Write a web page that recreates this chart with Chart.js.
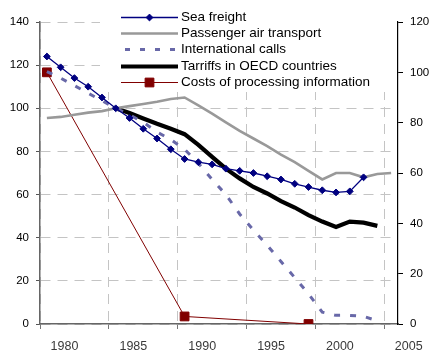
<!DOCTYPE html>
<html>
<head>
<meta charset="utf-8">
<script src="https://cdn.jsdelivr.net/npm/chart.js@4/dist/chart.umd.min.js"></script>
<style>
  html, body { margin: 0; padding: 0; background: #fff; overflow: hidden; }
  #wrap { width: 430px; height: 353px; position: relative; }
  canvas { display: block; }
</style>
</head>
<body>
<div id="wrap"><canvas id="trend"></canvas></div>
<script>
// Index values by year (left axis), costs on the right axis
const YEARS = [1980, 1981, 1982, 1983, 1984, 1985, 1986, 1987, 1988, 1989, 1990, 1991, 1992,
               1993, 1994, 1995, 1996, 1997, 1998, 1999, 2000, 2001, 2002, 2003, 2004, 2005];
const SEA_FREIGHT = [124, 119, 114, 110, 105, 100, 95.5, 90.5, 86, 81, 76.5, 75, 74, 72, 71,
                     70, 68.5, 67, 65, 63.5, 62, 61, 61.5, 68];
const PASSENGER_AIR = [95.5, 96, 97, 98, 98.7, 100, 101, 102, 103, 104.3, 105, 101.3, 97.5,
                       93.5, 89.5, 86, 82.5, 78.5, 75, 71, 67, 70, 70, 68, 69.5, 70];
const INTL_CALLS = [117, 114, 110.5, 107, 103.5, 100, 97, 93.5, 89, 85.5, 81, 74.5, 67, 60,
                    51, 43.5, 36.5, 29, 21.5, 14, 5.5, 4, 4, 3.5, 1.5];
const TARIFF_YEARS = YEARS.slice(5, 25);
const TARIFFS = [100, 97.8, 95.3, 92.8, 90.5, 88, 83, 77.5, 72, 67.5, 63.5, 60.5, 57, 54,
                 50.5, 47.5, 45, 47.5, 47, 45.5];
const COSTS_YEARS = [1980, 1990, 1999];
const COSTS = [100, 3, 0];

const X_LABELS = [1980, 1985, 1990, 1995, 2000, 2005];
const LEFT_MAX = 140;
const RIGHT_MAX = 120;

const FONT = '"Liberation Sans", Arial, sans-serif';
const pts = (xs, ys) => ys.map((v, i) => ({ x: xs[i], y: v }));

const datasets = [
  {
    label: 'Sea freight',
    data: pts(YEARS, SEA_FREIGHT),
    borderColor: '#000080', backgroundColor: '#000080', borderWidth: 1.3,
    pointStyle: 'rectRot', pointRadius: 3.4, pointBorderWidth: 1,
    yAxisID: 'y'
  },
  {
    label: 'Passenger air transport',
    data: pts(YEARS, PASSENGER_AIR),
    borderColor: '#999999', borderWidth: 2.6, pointRadius: 0,
    yAxisID: 'y'
  },
  {
    label: 'International calls',
    data: pts(YEARS, INTL_CALLS),
    borderColor: '#6868a8', borderWidth: 3, borderDash: [6, 10], pointRadius: 0,
    keyDash: [5, 10],
    yAxisID: 'y'
  },
  {
    label: 'Tarriffs in OECD countries',
    data: pts(TARIFF_YEARS, TARIFFS),
    borderColor: '#000000', borderWidth: 4.2, pointRadius: 0,
    yAxisID: 'y'
  },
  {
    label: 'Costs of processing information',
    data: pts(COSTS_YEARS, COSTS),
    borderColor: '#800000', backgroundColor: '#800000', borderWidth: 1,
    pointStyle: 'rect', pointRadius: 6.2, pointBorderWidth: 1,
    yAxisID: 'y1'
  }
];

// Year labels sit to the right of their tick marks, a little soft
const yearLabels = {
  id: 'yearLabels',
  afterDraw(chart) {
    const ctx = chart.ctx;
    const sx = chart.scales.x;
    ctx.save();
    ctx.font = '12.5px ' + FONT;
    ctx.fillStyle = '#3a3a3a';
    ctx.textAlign = 'center';
    ctx.textBaseline = 'middle';
    ctx.filter = 'blur(0.45px)';
    X_LABELS.forEach(yr => {
      const px = sx.getPixelForValue(yr - 0.5) + 24.5;
      ctx.fillText(String(yr), px, sx.top + 23);
    });
    ctx.restore();
  }
};

// Stacked key with line samples, boxed in white over the top of the plot
const seriesKey = {
  id: 'seriesKey',
  afterDraw(chart) {
    const ctx = chart.ctx;
    ctx.save();
    ctx.fillStyle = '#ffffff';
    ctx.fillRect(100, 3, 295, 89);
    ctx.font = '13.5px ' + FONT;
    ctx.textBaseline = 'middle';
    chart.data.datasets.forEach((ds, i) => {
      const y = Math.round(17 + i * 16.2) + 0.5;
      const x0 = 121, x1 = 178, xm = (x0 + x1) / 2;
      ctx.strokeStyle = ds.borderColor;
      ctx.lineWidth = ds.borderWidth;
      ctx.setLineDash(ds.keyDash || []);
      ctx.lineDashOffset = ds.keyDash ? 11 : 0;
      ctx.beginPath();
      ctx.moveTo(x0, y);
      ctx.lineTo(x1, y);
      ctx.stroke();
      ctx.setLineDash([]);
      if (ds.pointRadius > 0) {
        ctx.fillStyle = ds.backgroundColor;
        ctx.beginPath();
        if (ds.pointStyle === 'rectRot') {
          const r = ds.pointRadius;
          ctx.moveTo(xm, y - r); ctx.lineTo(xm + r, y); ctx.lineTo(xm, y + r); ctx.lineTo(xm - r, y);
          ctx.closePath();
        } else {
          const s = ds.pointRadius * Math.SQRT1_2;
          ctx.rect(xm - s, y - s, 2 * s, 2 * s);
        }
        ctx.fill();
        ctx.lineWidth = 1;
        ctx.stroke();
      }
      ctx.fillStyle = '#000';
      ctx.fillText(ds.label, 181, y);
    });
    ctx.restore();
  }
};

const tickFont = { family: FONT, size: 11.5 };

new Chart(document.getElementById('trend'), {
  type: 'line',
  data: { datasets },
  plugins: [seriesKey, yearLabels],
  options: {
    responsive: true,
    maintainAspectRatio: false,
    animation: false,
    layout: { padding: { top: 22, left: 0, right: 0, bottom: 0 } },
    elements: { line: { tension: 0, fill: false } },
    plugins: { legend: { display: false }, tooltip: { enabled: false } },
    scales: {
      x: {
        type: 'linear',
        min: YEARS[0] - 0.5,
        max: YEARS[YEARS.length - 1] + 0.5,
        afterBuildTicks: (s) => { s.ticks = X_LABELS.map(v => ({ value: v - 0.5 })); },
        afterFit: (s) => { s.height = 29; },
        ticks: { display: false },
        grid: {
          color: '#c4c4c4', tickLength: 5,
          tickColor: '#777', tickBorderDash: [], tickWidth: 1
        },
        border: { color: '#666', width: 1.5, dash: [10, 7] }
      },
      y: {
        position: 'left', min: 0, max: LEFT_MAX,
        afterFit: (s) => { s.width = 40; },
        ticks: { stepSize: 20, color: '#000', padding: 7, font: tickFont },
        grid: {
          color: '#c4c4c4', tickLength: 4,
          tickColor: '#555', tickBorderDash: [], tickWidth: 1
        },
        border: { color: '#666', width: 1.5, dash: [10, 7] }
      },
      y1: {
        position: 'right', min: 0, max: RIGHT_MAX,
        afterFit: (s) => { s.width = 32; },
        ticks: { stepSize: 20, color: '#000', padding: 7, font: tickFont },
        grid: { drawOnChartArea: false, tickLength: 5, tickColor: '#000', tickWidth: 1 },
        border: { color: '#000', width: 1.2 }
      }
    }
  }
});
</script>
</body>
</html>
